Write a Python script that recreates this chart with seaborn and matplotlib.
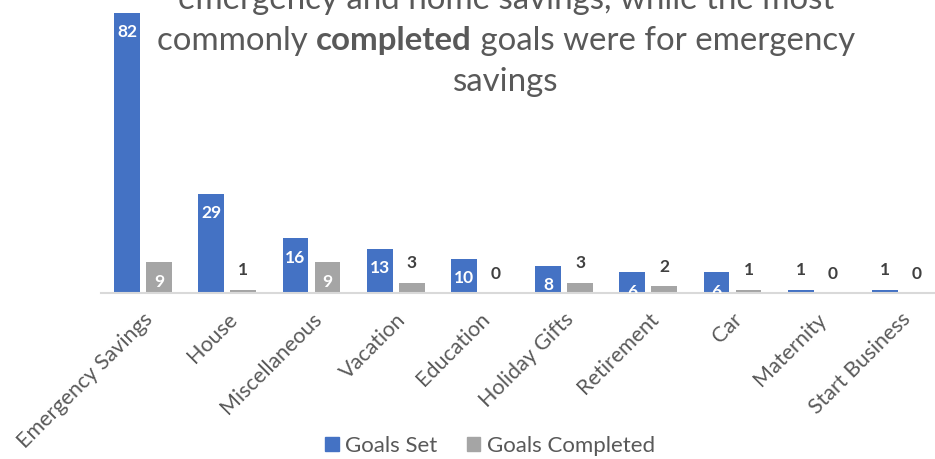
import matplotlib
matplotlib.use("Agg")
import matplotlib.pyplot as plt
import matplotlib.transforms as mtransforms
import seaborn as sns
import pandas as pd

categories = ["Emergency Savings", "House", "Miscellaneous", "Vacation", "Education",
              "Holiday Gifts", "Retirement", "Car", "Maternity", "Start Business"]
goals_set = [82, 29, 16, 13, 10, 8, 6, 6, 1, 1]
goals_completed = [9, 1, 9, 3, 0, 3, 2, 1, 0, 0]
series_names = ["Goals Set", "Goals Completed"]
title_lines = [["emergency and home savings, while the most"],
               ["commonly ", "completed", " goals were for emergency"],
               ["savings"]]
bold_parts = {"completed"}

BLUE = "#4472C4"
GRAY = "#A5A5A5"
TXT = "#595959"
FONT = "Lato"

sns.set_theme(style="white")
plt.rcParams["font.family"] = [FONT, "DejaVu Sans"]

df = pd.DataFrame({
    "category": categories * 2,
    "value": goals_set + goals_completed,
    "series": [series_names[0]] * len(categories) + [series_names[1]] * len(categories),
})

W, H = 935, 459
fig = plt.figure(figsize=(W / 100, H / 100), dpi=100)
ax_left = 101 / W
ax_bottom = (H - 293) / H
ax = fig.add_axes([ax_left, ax_bottom, 1 - ax_left, 1 - ax_bottom])

sns.barplot(data=df, x="category", y="value", hue="series", order=categories,
            hue_order=series_names, palette=[BLUE, GRAY], width=0.76, gap=0.19,
            saturation=1, ax=ax, legend=False, linewidth=0)

px_per_cat = 84.2
ax.set_xlim(-0.5, -0.5 + (W - 101) / px_per_cat)
ax.set_ylim(0, 293 / 3.42)

for s in ["top", "right", "left"]:
    ax.spines[s].set_visible(False)
ax.spines["bottom"].set_color("#D9D9D9")
ax.spines["bottom"].set_linewidth(1.5)
ax.set_yticks([])
ax.set_xlabel("")
ax.set_ylabel("")
ax.tick_params(axis="x", length=0, pad=6)
ax.set_xticks(range(len(categories)))
ax.set_xticklabels(categories, rotation=45, ha="right", va="center",
                   rotation_mode="anchor", fontsize=15.5, color=TXT)
offset = mtransforms.ScaledTranslation(7 / 100, -15 / 100, fig.dpi_scale_trans)
for lab in ax.get_xticklabels():
    lab.set_transform(lab.get_transform() + offset)

# value labels
for container, vals, thresh in zip(ax.containers, [goals_set, goals_completed], [5, 5]):
    for bar, v in zip(container, vals):
        x = bar.get_x() + bar.get_width() / 2
        if v > thresh:
            ax.annotate(str(v), (x, v), xytext=(0, -14), textcoords="offset points",
                        ha="center", va="center", color="white", fontsize=12.5,
                        fontweight="bold", clip_on=True, annotation_clip=True)
        else:
            ax.annotate(str(v), (x, v), xytext=(0, 14), textcoords="offset points",
                        ha="center", va="center", color="#404040", fontsize=12.5,
                        fontweight="bold")

# title (clipped at the top of the figure)
fig.canvas.draw()
renderer = fig.canvas.get_renderer()
baselines = [9, 50, 91]
center_x = 506
for line, base in zip(title_lines, baselines):
    texts = []
    for part in line:
        t = fig.text(0, 0, part, fontsize=23.8, color=TXT,
                     fontweight="bold" if part in bold_parts else "normal",
                     va="baseline", ha="left", transform=None)
        texts.append(t)
    widths = [t.get_window_extent(renderer).width for t in texts]
    total = sum(widths)
    x0 = center_x - total / 2
    for t, w in zip(texts, widths):
        t.set_position((x0, H - base))
        x0 += w

handles = [plt.Rectangle((0, 0), 1, 1, color=c) for c in [BLUE, GRAY]]
fig.legend(handles, series_names, loc="center", bbox_to_anchor=(490 / W, 1 - 446 / H),
           ncol=2, frameon=False, fontsize=16, handlelength=0.6, handleheight=0.6,
           handletextpad=0.3, columnspacing=1.3, labelcolor=TXT)

fig.savefig("out.png", dpi=100)
